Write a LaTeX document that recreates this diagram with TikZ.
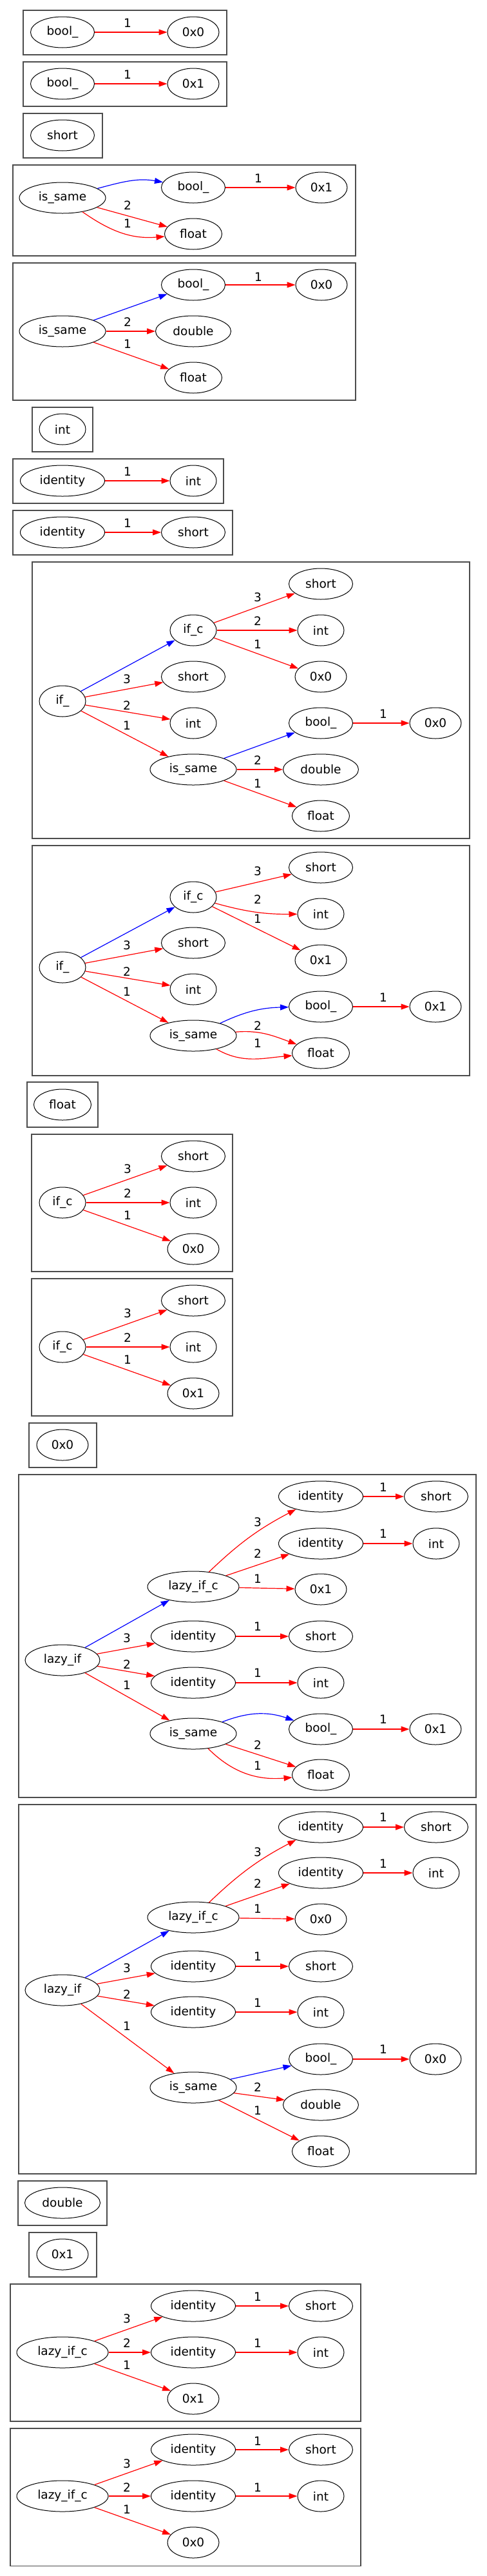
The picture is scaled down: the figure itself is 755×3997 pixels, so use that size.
\documentclass[tikz,border=0pt]{standalone}
\usepackage{fontspec}
\setmainfont{DejaVu Sans}
\usetikzlibrary{arrows.meta,shapes.geometric}

\tikzset{
  gv/.style={draw, ellipse, inner sep=0pt, minimum height=48pt, line width=1pt},
  tbool/.style={gv, minimum width=99pt},
  tnum/.style={gv, minimum width=80pt},
  tshort/.style={gv, minimum width=99pt},
  tint/.style={gv, minimum width=72pt},
  tfloat/.style={gv, minimum width=89pt},
  tdouble/.style={gv, minimum width=117pt},
  tsame/.style={gv, minimum width=134pt},
  tident/.style={gv, minimum width=131pt},
  tif/.style={gv, minimum width=72pt},
  tlazy/.style={gv, minimum width=116pt},
  tlazyc/.style={gv, minimum width=142pt},
  re/.style={->, red, line width=1.2pt},
  be/.style={->, blue, line width=1.2pt},
  lbl/.style={inner sep=0pt, text=black},
  box/.style={draw=black!70, line width=1.1pt}
}

\begin{document}
\begin{tikzpicture}[x=1pt, y=-1pt, >={Triangle[length=13pt,width=9pt]},
    font=\fontsize{18.5}{22}\selectfont]
    \useasboundingbox (0,0) rectangle (755,3997);
    % Draw the cluster frames
    \foreach \xa/\ya/\xb/\yb in {36/16/352/85, 36/96/352/165, 36/176/159/245,
        20/256/552/397, 20/408/552/621, 50/632/144/701, 20/712/347/781,
        20/792/361/861, 50/872/729/1301, 50/1312/729/1669, 42/1679/152/1749,
        49/1760/361/1973, 49/1984/361/2197, 45/2208/150/2277, 29/2288/739/2789,
        29/2800/739/3373, 28/3384/166/3453, 45/3464/150/3533, 16/3544/560/3757,
        16/3768/560/3981}{
      \draw[box] (\xa,\ya) rectangle (\xb,\yb);
    }

    % bool_ -> 0x0
    \node[tbool] (a1) at (97,50) {bool\_};
    \node[tnum] (a2) at (300,50) {0x0};
    \draw[re] (a1) -- (a2) node[lbl] (a3) at (198,36) {1};

    % bool_ -> 0x1
    \node[tbool] (b1) at (97,130) {bool\_};
    \node[tnum] (b2) at (300,130) {0x1};
    \draw[re] (b1) -- (b2) node[lbl] (b3) at (198,116) {1};

    \node[tshort] (c1) at (97,210) {short};

    % is_same float float
    \node[tsame] (d1) at (97,307) {is\_same};
    \node[tbool] (d2) at (300,291) {bool\_};
    \node[tfloat] (d3) at (300,363) {float};
    \node[tnum] (d4) at (499,291) {0x1};
    \draw[be] (d1) to[out=15, in=170] (d2);
    \draw[re] (d1) -- (d3) node[lbl] (d5) at (198,319) {2};
    \draw[re] (d1) to[out=-35, in=185] (d3) node[lbl] (d6) at (198,347) {1};
    \draw[re] (d2) -- (d4) node[lbl] (d7) at (401,277) {1};

    % is_same double float
    \node[tsame] (e1) at (97,514) {is\_same};
    \node[tbool] (e2) at (300,442) {bool\_};
    \node[tdouble] (e3) at (300,514) {double};
    \node[tfloat] (e4) at (300,586) {float};
    \node[tnum] (e5) at (499,442) {0x0};
    \draw[be] (e1) -- (e2);
    \draw[re] (e1) -- (e3) node[lbl] (e6) at (198,500) {2};
    \draw[re] (e1) -- (e4) node[lbl] (e7) at (198,534) {1};
    \draw[re] (e2) -- (e5) node[lbl] (e8) at (401,430) {1};

    \node[tint] (f1) at (97,666) {int};

    \node[tident] (g1) at (97,746) {identity};
    \node[tint] (g2) at (300,746) {int};
    \draw[re] (g1) -- (g2) node[lbl] (g3) at (198,732) {1};

    \node[tident] (h1) at (97,826) {identity};
    \node[tshort] (h2) at (300,826) {short};
    \draw[re] (h1) -- (h2) node[lbl] (h3) at (198,812) {1};

    % if_ with 0x0
    \node[tif] (i1) at (97,1088) {if\_};
    \node[tif] (i2) at (300,978) {if\_c};
    \node[tshort] (i3) at (300,1050) {short};
    \node[tint] (i4) at (300,1122) {int};
    \node[tsame] (i5) at (300,1194) {is\_same};
    \node[tshort] (i6) at (498,906) {short};
    \node[tint] (i7) at (498,978) {int};
    \node[tnum] (i8) at (498,1050) {0x0};
    \node[tbool] (i9) at (498,1122) {bool\_};
    \node[tnum] (i10) at (676,1122) {0x0};
    \node[tdouble] (i11) at (498,1194) {double};
    \node[tfloat] (i12) at (498,1266) {float};
    \draw[be] (i1) -- (i2);
    \draw[re] (i1) -- (i3) node[lbl] (i13) at (197,1054) {3};
    \draw[re] (i1) -- (i4) node[lbl] (i14) at (197,1095) {2};
    \draw[re] (i1) -- (i5) node[lbl] (i15) at (197,1126) {1};
    \draw[re] (i2) -- (i6) node[lbl] (i16) at (400,927) {3};
    \draw[re] (i2) -- (i7) node[lbl] (i17) at (400,964) {2};
    \draw[re] (i2) -- (i8) node[lbl] (i18) at (400,1000) {1};
    \draw[be] (i5) -- (i9);
    \draw[re] (i5) -- (i11) node[lbl] (i19) at (400,1180) {2};
    \draw[re] (i5) -- (i12) node[lbl] (i20) at (400,1216) {1};
    \draw[re] (i9) -- (i10) node[lbl] (i21) at (595,1108) {1};

    % if_ with 0x1
    \node[tif] (j1) at (97,1501) {if\_};
    \node[tif] (j2) at (300,1392) {if\_c};
    \node[tshort] (j3) at (300,1463) {short};
    \node[tint] (j4) at (300,1535) {int};
    \node[tsame] (j5) at (300,1607) {is\_same};
    \node[tshort] (j6) at (498,1346) {short};
    \node[tint] (j7) at (498,1418) {int};
    \node[tnum] (j8) at (498,1490) {0x1};
    \node[tbool] (j9) at (498,1562) {bool\_};
    \node[tnum] (j10) at (676,1562) {0x1};
    \node[tfloat] (j11) at (498,1634) {float};
    \draw[be] (j1) -- (j2);
    \draw[re] (j1) -- (j3) node[lbl] (j12) at (197,1467) {3};
    \draw[re] (j1) -- (j4) node[lbl] (j13) at (197,1508) {2};
    \draw[re] (j1) -- (j5) node[lbl] (j14) at (197,1539) {1};
    \draw[re] (j2) -- (j6) node[lbl] (j15) at (400,1352) {3};
    \draw[re] (j2) to[bend right=8] (j7) node[lbl] (j16) at (400,1396) {2};
    \draw[re] (j2) -- (j8) node[lbl] (j17) at (400,1426) {1};
    \draw[be] (j5) to[bend left=12] (j9);
    \draw[re] (j5) to[out=5, in=160] (j11) node[lbl] (j18) at (400,1592) {2};
    \draw[re] (j5) to[out=-30, in=185] (j11) node[lbl] (j19) at (400,1619) {1};
    \draw[re] (j9) -- (j10) node[lbl] (j20) at (595,1548) {1};

    \node[tfloat] (k1) at (97,1714) {float};

    \node[tif] (l1) at (97,1866) {if\_c};
    \node[tshort] (l2) at (300,1794) {short};
    \node[tint] (l3) at (300,1866) {int};
    \node[tnum] (l4) at (300,1938) {0x0};
    \draw[re] (l1) -- (l2) node[lbl] (l5) at (198,1814) {3};
    \draw[re] (l1) -- (l3) node[lbl] (l6) at (198,1852) {2};
    \draw[re] (l1) -- (l4) node[lbl] (l7) at (198,1886) {1};

    \node[tif] (m1) at (97,2090) {if\_c};
    \node[tshort] (m2) at (300,2018) {short};
    \node[tint] (m3) at (300,2090) {int};
    \node[tnum] (m4) at (300,2162) {0x1};
    \draw[re] (m1) -- (m2) node[lbl] (m5) at (198,2038) {3};
    \draw[re] (m1) -- (m3) node[lbl] (m6) at (198,2076) {2};
    \draw[re] (m1) -- (m4) node[lbl] (m7) at (198,2110) {1};

    \node[tnum] (n1) at (97,2242) {0x0};

    % lazy_if with 0x1
    \node[tlazy] (p1) at (97,2576) {lazy\_if};
    \node[tlazyc] (p2) at (300,2462) {lazy\_if\_c};
    \node[tident] (p3) at (300,2539) {identity};
    \node[tident] (p4) at (300,2611) {identity};
    \node[tsame] (p5) at (300,2690) {is\_same};
    \node[tident] (p6) at (498,2322) {identity};
    \node[tident] (p7) at (498,2395) {identity};
    \node[tnum] (p8) at (498,2466) {0x1};
    \node[tshort] (p9) at (498,2539) {short};
    \node[tint] (p10) at (498,2611) {int};
    \node[tbool] (p11) at (498,2683) {bool\_};
    \node[tfloat] (p12) at (498,2754) {float};
    \node[tshort] (p13) at (677,2322) {short};
    \node[tint] (p14) at (677,2395) {int};
    \node[tnum] (p15) at (676,2683) {0x1};
    \draw[be] (p1) -- (p2);
    \draw[re] (p1) -- (p3) node[lbl] (p16) at (197,2542) {3};
    \draw[re] (p1) -- (p4) node[lbl] (p17) at (197,2583) {2};
    \draw[re] (p1) -- (p5) node[lbl] (p18) at (197,2615) {1};
    \draw[re] (p2) to[bend left=8] (p6) node[lbl] (p19) at (400,2362) {3};
    \draw[re] (p2) -- (p7) node[lbl] (p20) at (400,2411) {2};
    \draw[re] (p2) -- (p8) node[lbl] (p21) at (400,2450) {1};
    \draw[re] (p3) -- (p9) node[lbl] (p22) at (400,2524) {1};
    \draw[re] (p4) -- (p10) node[lbl] (p23) at (400,2596) {1};
    \draw[be] (p5) to[bend left=20] (p11);
    \draw[re] (p5) -- (p12) node[lbl] (p24) at (400,2708) {2};
    \draw[re] (p5) to[out=-45, in=185] (p12) node[lbl] (p25) at (400,2740) {1};
    \draw[re] (p6) -- (p13) node[lbl] (p26) at (595,2308) {1};
    \draw[re] (p7) -- (p14) node[lbl] (p27) at (595,2380) {1};
    \draw[re] (p11) -- (p15) node[lbl] (p28) at (595,2668) {1};

    % lazy_if with 0x0
    \node[tlazy] (q1) at (97,3088) {lazy\_if};
    \node[tlazyc] (q2) at (300,2975) {lazy\_if\_c};
    \node[tident] (q3) at (300,3051) {identity};
    \node[tident] (q4) at (300,3122) {identity};
    \node[tsame] (q5) at (300,3239) {is\_same};
    \node[tident] (q6) at (498,2835) {identity};
    \node[tident] (q7) at (498,2906) {identity};
    \node[tnum] (q8) at (498,2978) {0x0};
    \node[tshort] (q9) at (498,3051) {short};
    \node[tint] (q10) at (498,3122) {int};
    \node[tbool] (q11) at (498,3195) {bool\_};
    \node[tdouble] (q12) at (498,3266) {double};
    \node[tfloat] (q13) at (498,3338) {float};
    \node[tshort] (q14) at (677,2835) {short};
    \node[tint] (q15) at (677,2906) {int};
    \node[tnum] (q16) at (676,3195) {0x0};
    \draw[be] (q1) -- (q2);
    \draw[re] (q1) -- (q3) node[lbl] (q17) at (197,3054) {3};
    \draw[re] (q1) -- (q4) node[lbl] (q18) at (197,3095) {2};
    \draw[re] (q1) -- (q5) node[lbl] (q19) at (197,3144) {1};
    \draw[re] (q2) to[bend left=8] (q6) node[lbl] (q20) at (400,2874) {3};
    \draw[re] (q2) -- (q7) node[lbl] (q21) at (400,2923) {2};
    \draw[re] (q2) -- (q8) node[lbl] (q22) at (400,2962) {1};
    \draw[re] (q3) -- (q9) node[lbl] (q23) at (400,3036) {1};
    \draw[re] (q4) -- (q10) node[lbl] (q24) at (400,3108) {1};
    \draw[be] (q5) -- (q11);
    \draw[re] (q5) -- (q12) node[lbl] (q25) at (400,3239) {2};
    \draw[re] (q5) -- (q13) node[lbl] (q26) at (400,3275) {1};
    \draw[re] (q6) -- (q14) node[lbl] (q27) at (595,2820) {1};
    \draw[re] (q7) -- (q15) node[lbl] (q28) at (595,2892) {1};
    \draw[re] (q11) -- (q16) node[lbl] (q29) at (595,3180) {1};

    \node[tdouble] (r1) at (97,3418) {double};
    \node[tnum] (s1) at (97,3498) {0x1};

    % lazy_if_c with 0x1
    \node[tlazyc] (t1) at (97,3650) {lazy\_if\_c};
    \node[tident] (t2) at (300,3578) {identity};
    \node[tident] (t3) at (300,3650) {identity};
    \node[tnum] (t4) at (300,3722) {0x1};
    \node[tshort] (t5) at (498,3578) {short};
    \node[tint] (t6) at (498,3650) {int};
    \draw[re] (t1) -- (t2) node[lbl] (t7) at (197,3598) {3};
    \draw[re] (t1) -- (t3) node[lbl] (t8) at (197,3636) {2};
    \draw[re] (t1) -- (t4) node[lbl] (t9) at (197,3670) {1};
    \draw[re] (t2) -- (t5) node[lbl] (t10) at (400,3564) {1};
    \draw[re] (t3) -- (t6) node[lbl] (t11) at (400,3636) {1};

    % lazy_if_c with 0x0
    \node[tlazyc] (u1) at (97,3873) {lazy\_if\_c};
    \node[tident] (u2) at (300,3801) {identity};
    \node[tident] (u3) at (300,3873) {identity};
    \node[tnum] (u4) at (300,3945) {0x0};
    \node[tshort] (u5) at (498,3801) {short};
    \node[tint] (u6) at (498,3873) {int};
    \draw[re] (u1) -- (u2) node[lbl] (u7) at (197,3823) {3};
    \draw[re] (u1) -- (u3) node[lbl] (u8) at (197,3860) {2};
    \draw[re] (u1) -- (u4) node[lbl] (u9) at (197,3894) {1};
    \draw[re] (u2) -- (u5) node[lbl] (u10) at (400,3788) {1};
    \draw[re] (u3) -- (u6) node[lbl] (u11) at (400,3860) {1};
\end{tikzpicture}
\end{document}
